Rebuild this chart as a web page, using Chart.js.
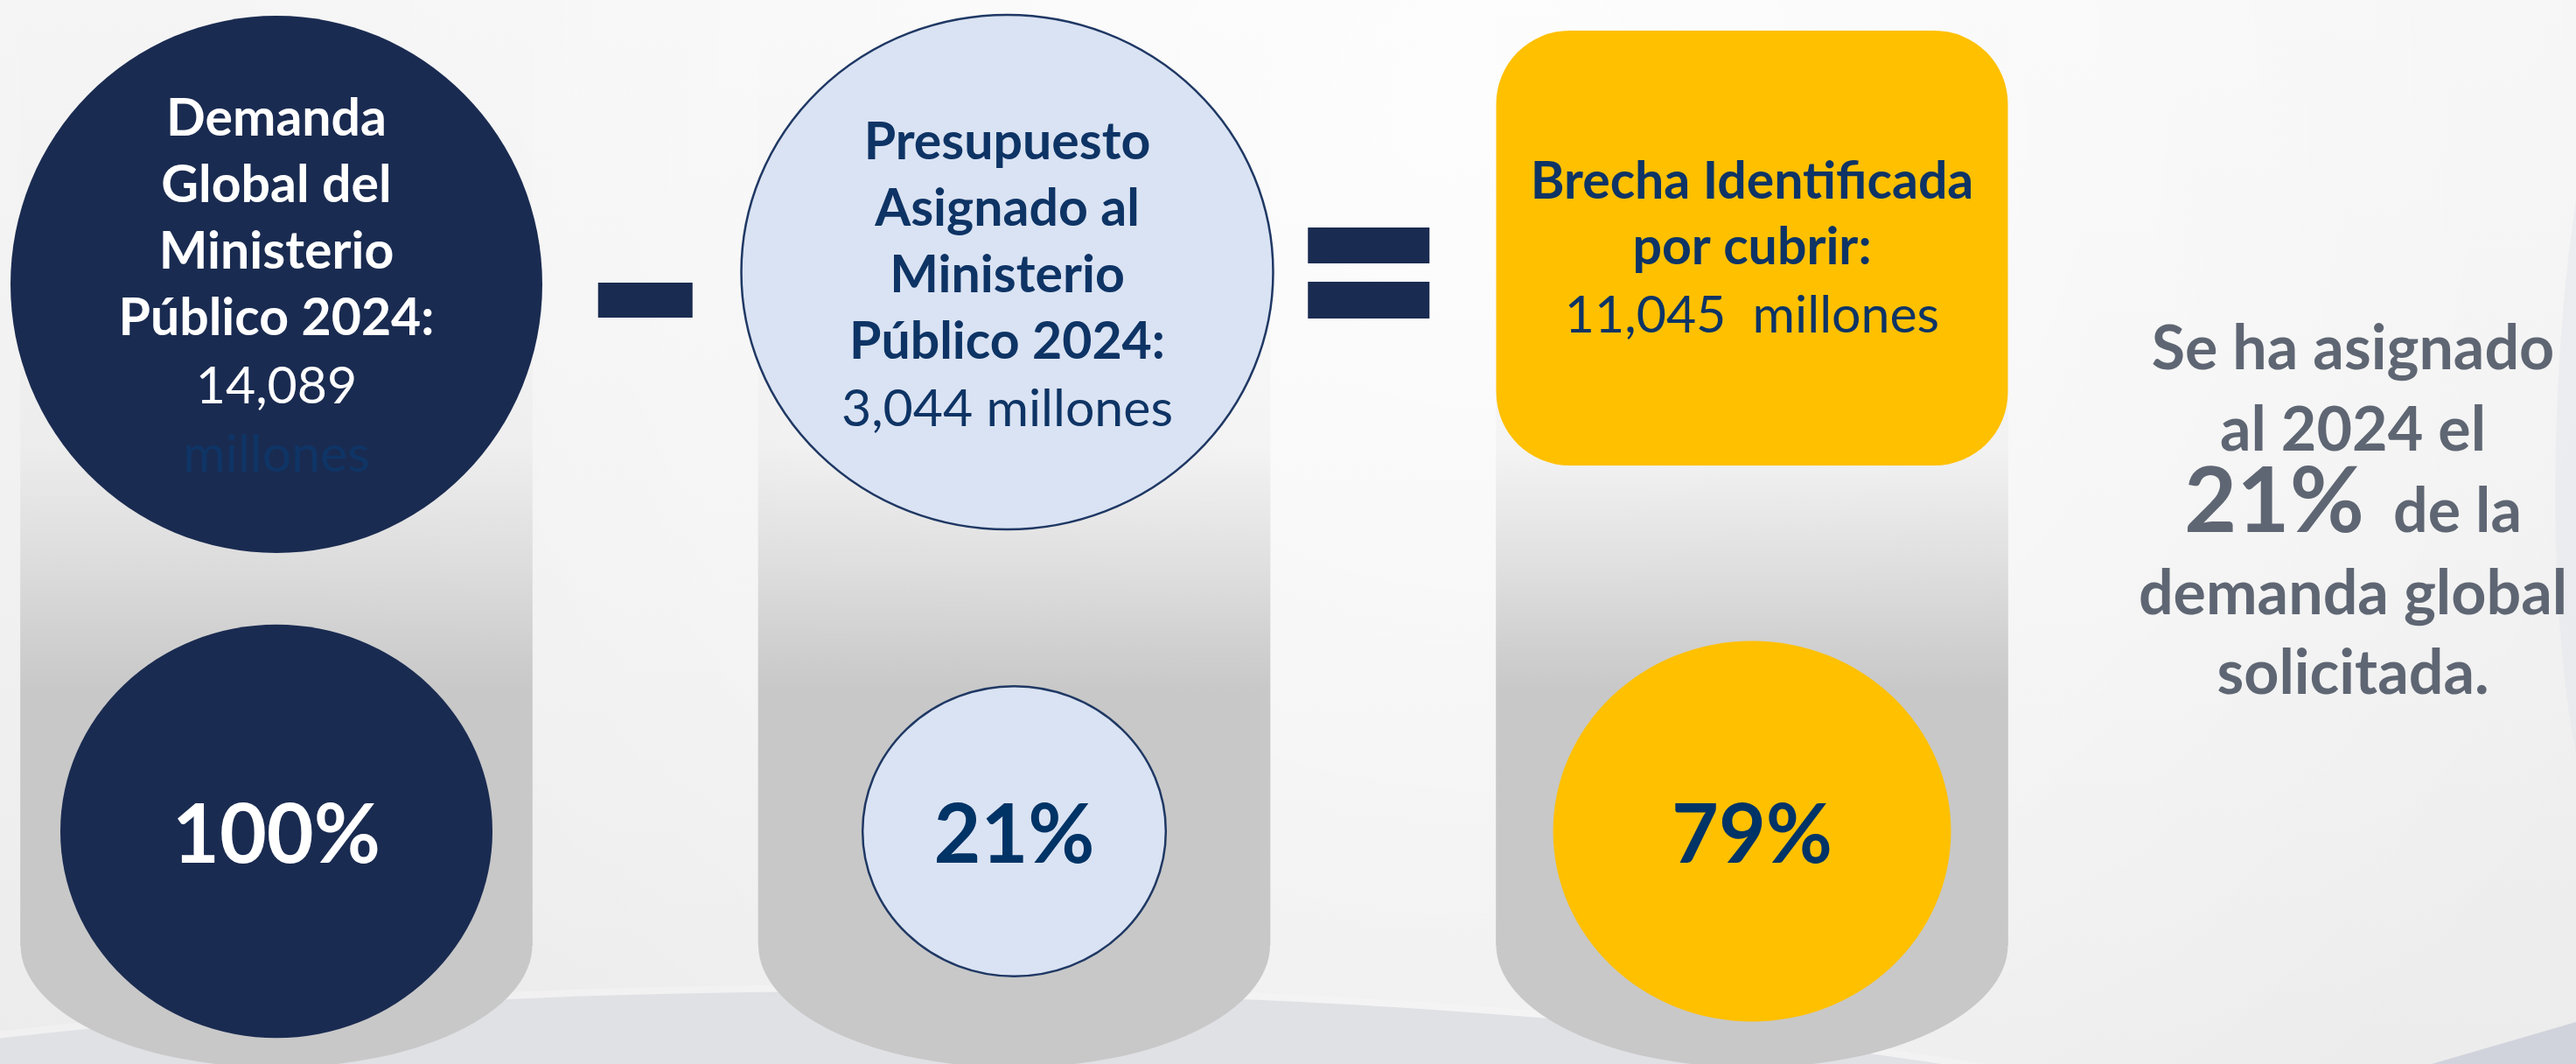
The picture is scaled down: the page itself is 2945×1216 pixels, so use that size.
<!DOCTYPE html>
<html lang="es">
<head>
<meta charset="utf-8">
<title>Brecha presupuestaria Ministerio Público 2024</title>
<script src="https://cdn.jsdelivr.net/npm/chart.js@4"></script>
<style>
  html, body { margin: 0; padding: 0; background: #efefef; overflow: hidden; }
  #wrap { width: 2945px; height: 1216px; }
  canvas { display: block; }
</style>
</head>
<body>
<div id="wrap"><canvas id="brecha" width="2945" height="1216"></canvas></div>
<script>
(function() {
'use strict';

// datos
const CATEGORIES = ['Demanda Global', 'Presupuesto Asignado', 'Brecha Identificada'];
const TITLE_LINES = [
  ['Demanda', 'Global del', 'Ministerio', 'Público 2024:'],
  ['Presupuesto', 'Asignado al', 'Ministerio', 'Público 2024:'],
  ['Brecha Identificada', 'por cubrir:']
];
const AMOUNTS = [14089, 3044, 11045];   // millones
const UNIT = 'millones';
const SHARES = [100, 21, 79];           // % de la demanda global
const PILLAR = [100, 100, 100];         // cada columna = escala completa
const NOTE_LINES = ['Se ha asignado', 'al 2024 el', null, 'demanda global', 'solicitada.'];
const NOTE_TAIL = 'de la';

// colores
const NAVY = '#1a2b51';
const INK = '#0e3465';
const PCT_INK = '#003366';
const LIGHT = '#dae3f3';
const GOLD = '#ffc000';
const GREY = '#c8c8c8';
const NOTE = '#5f6673';
const FONT = 'Lato, "Open Sans", "DejaVu Sans", sans-serif';

function bold(px) { return '700 ' + px + 'px ' + FONT; }
function reg(px) { return '400 ' + px + 'px ' + FONT; }

function txt(ctx, s, x, y, font, color, align) {
  ctx.font = font;
  ctx.fillStyle = color;
  ctx.textAlign = align || 'center';
  ctx.textBaseline = 'alphabetic';
  ctx.fillText(s, x, y);
}

function fmt(n) { return n.toLocaleString('en-US'); }

function pillarFill(c) {
  const chart = c.chart;
  if (!chart.chartArea) return GREY;
  const g = chart.ctx.createLinearGradient(0, 0, 0, chart.height);
  g.addColorStop(0, 'rgba(200,200,200,0)');
  g.addColorStop(0.25, 'rgba(200,200,200,0.04)');
  g.addColorStop(0.42, 'rgba(200,200,200,0.12)');
  g.addColorStop(0.53, 'rgba(200,200,200,0.5)');
  g.addColorStop(0.61, 'rgba(200,200,200,0.84)');
  g.addColorStop(0.65, 'rgba(200,200,200,1)');
  g.addColorStop(1, 'rgba(200,200,200,1)');
  return g;
}

function background(ctx, w, h) {
  ctx.save();
  const g = ctx.createLinearGradient(0, 0, 0, h);
  g.addColorStop(0, '#f5f5f5');
  g.addColorStop(0.5, '#f1f1f1');
  g.addColorStop(1, '#ececec');
  ctx.fillStyle = g;
  ctx.fillRect(0, 0, w, h);
  const r = ctx.createRadialGradient(1700, 120, 0, 1700, 120, 1500);
  r.addColorStop(0, 'rgba(255,255,255,0.85)');
  r.addColorStop(1, 'rgba(255,255,255,0)');
  ctx.fillStyle = r;
  ctx.fillRect(0, 0, w, h);
  // franja curva inferior
  ctx.fillStyle = 'rgba(247,247,248,0.45)';
  ctx.beginPath();
  ctx.ellipse(1000, 1525, 2000, 400, 0, 0, Math.PI * 2);
  ctx.fill();
  ctx.fillStyle = '#e0e1e5';
  ctx.beginPath();
  ctx.ellipse(1000, 1533, 2000, 400, 0, 0, Math.PI * 2);
  ctx.fill();
  // esquina inferior derecha
  ctx.fillStyle = '#d0d3dc';
  ctx.beginPath();
  ctx.moveTo(w, 1168);
  ctx.lineTo(2780, h);
  ctx.lineTo(w, h);
  ctx.closePath();
  ctx.fill();
  // borde derecho, muy tenue
  ctx.fillStyle = 'rgba(226,228,234,0.45)';
  ctx.beginPath();
  ctx.moveTo(w, 230);
  ctx.bezierCurveTo(2915, 420, 2912, 700, w, 860);
  ctx.closePath();
  ctx.fill();
  ctx.restore();
}

function ellipse(ctx, x, y, rx, ry, fill, stroke) {
  ctx.beginPath();
  ctx.ellipse(x, y, rx, ry, 0, 0, Math.PI * 2);
  ctx.fillStyle = fill;
  ctx.fill();
  if (stroke) {
    ctx.lineWidth = 2.5;
    ctx.strokeStyle = stroke;
    ctx.stroke();
  }
}

const STEP = 76;
const TITLE_PX = 59;
const FOOT = 140;     // pie eliptico de la columna
const DISK_Y = 950;

const infographic = {
  id: 'infographic',
  beforeDraw(chart) {
    background(chart.ctx, chart.width, chart.height);
  },
  afterDatasetsDraw(chart) {
    const ctx = chart.ctx;
    const bars = chart.getDatasetMeta(0).data.map(b => b.getProps(['x', 'y', 'base', 'width'], true));
    ctx.save();

    // pie redondeado de cada columna
    bars.forEach(b => {
      ctx.fillStyle = GREY;
      ctx.beginPath();
      ctx.ellipse(b.x, b.base, b.width / 2, FOOT, 0, 0, Math.PI);
      ctx.fill();
      ctx.fillRect(b.x - b.width / 2, b.base - 2, b.width, 3);
    });

    // operadores
    const c = bars.map(b => b.x);
    const m1 = (c[0] + c[1]) / 2, m2 = (c[1] + c[2]) / 2 - 16;
    ctx.fillStyle = NAVY;
    ctx.fillRect(m1 - 54, 323, 108, 40);
    ctx.fillRect(m2 - 70, 260, 139, 41);
    ctx.fillRect(m2 - 70, 322, 139, 42);

    // tarjetas superiores
    let cy = 325;
    ellipse(ctx, c[0], cy, 304, 307, NAVY);
    TITLE_LINES[0].forEach((s, k) => txt(ctx, s, c[0], cy - 170 + k * STEP, bold(TITLE_PX), '#ffffff'));
    txt(ctx, fmt(AMOUNTS[0]), c[0], cy + 136, reg(TITLE_PX), '#ffffff');
    txt(ctx, UNIT, c[0], cy + 214, reg(TITLE_PX), '#0f3566');

    cy = 311;
    ellipse(ctx, c[1] - 8, cy, 304, 294, LIGHT, '#1f3864');
    TITLE_LINES[1].forEach((s, k) => txt(ctx, s, c[1] - 8, cy - 129 + k * STEP, bold(TITLE_PX), INK));
    txt(ctx, fmt(AMOUNTS[1]) + ' ' + UNIT, c[1] - 8, cy + 176, reg(TITLE_PX), INK);

    const w = bars[2].width, top = 35;
    ctx.fillStyle = GOLD;
    ctx.beginPath();
    ctx.roundRect(c[2] - w / 2, top, w, 497, 84);
    ctx.fill();
    TITLE_LINES[2].forEach((s, k) => txt(ctx, s, c[2], top + 192 + k * 75, bold(TITLE_PX), INK));
    txt(ctx, fmt(AMOUNTS[2]) + '  ' + UNIT, c[2], top + 345, reg(TITLE_PX), INK);

    // discos de porcentaje: radio segun la participacion
    const fills = [NAVY, LIGHT, GOLD];
    const inks = ['#ffffff', PCT_INK, PCT_INK];
    SHARES.forEach((p, i) => {
      const r = 150 + 0.91 * p;
      ellipse(ctx, c[i], DISK_Y, r * 1.025, r * 0.98, fills[i], i === 1 ? '#1f3864' : null);
      txt(ctx, p + '%', c[i], DISK_Y + 36, bold(93), inks[i]);
    });

    // nota lateral
    const nx = chart.chartArea.right + 687;
    const base = [422, 515, 608, 702, 793];
    NOTE_LINES.forEach((s, k) => {
      if (s) {
        txt(ctx, s, nx, base[k], bold(70), NOTE);
        return;
      }
      const big = SHARES[1] + '%';
      ctx.font = bold(104);
      const w1 = ctx.measureText(big).width;
      ctx.font = bold(70);
      const w2 = ctx.measureText(NOTE_TAIL).width;
      const x0 = nx - (w1 + 33 + w2) / 2;
      txt(ctx, big, x0, base[k], bold(104), NOTE, 'left');
      txt(ctx, NOTE_TAIL, x0 + w1 + 33, base[k], bold(70), NOTE, 'left');
    });

    ctx.restore();
  }
};

function draw() {
  const canvas = document.getElementById('brecha');
  new Chart(canvas, {
    type: 'bar',
    data: {
      labels: CATEGORIES,
      datasets: [{
        label: 'Columna',
        data: PILLAR,
        backgroundColor: pillarFill,
        borderWidth: 0,
        barThickness: 585,
        clip: false
      }]
    },
    options: {
      responsive: false,
      animation: false,
      devicePixelRatio: 1,
      events: [],
      layout: {padding: {left: 316, right: 942, top: 0, bottom: FOOT - 4}},
      scales: {
        x: {type: 'category', offset: false, display: false},
        y: {min: 0, max: 100, display: false}
      },
      plugins: {legend: {display: false}, tooltip: {enabled: false}}
    },
    plugins: [infographic]
  });
}

const loads = document.fonts ? Promise.all([
  document.fonts.load(bold(56)), document.fonts.load(reg(56))
]) : Promise.resolve();
loads.then(draw, draw);
})();
</script>
</body>
</html>
